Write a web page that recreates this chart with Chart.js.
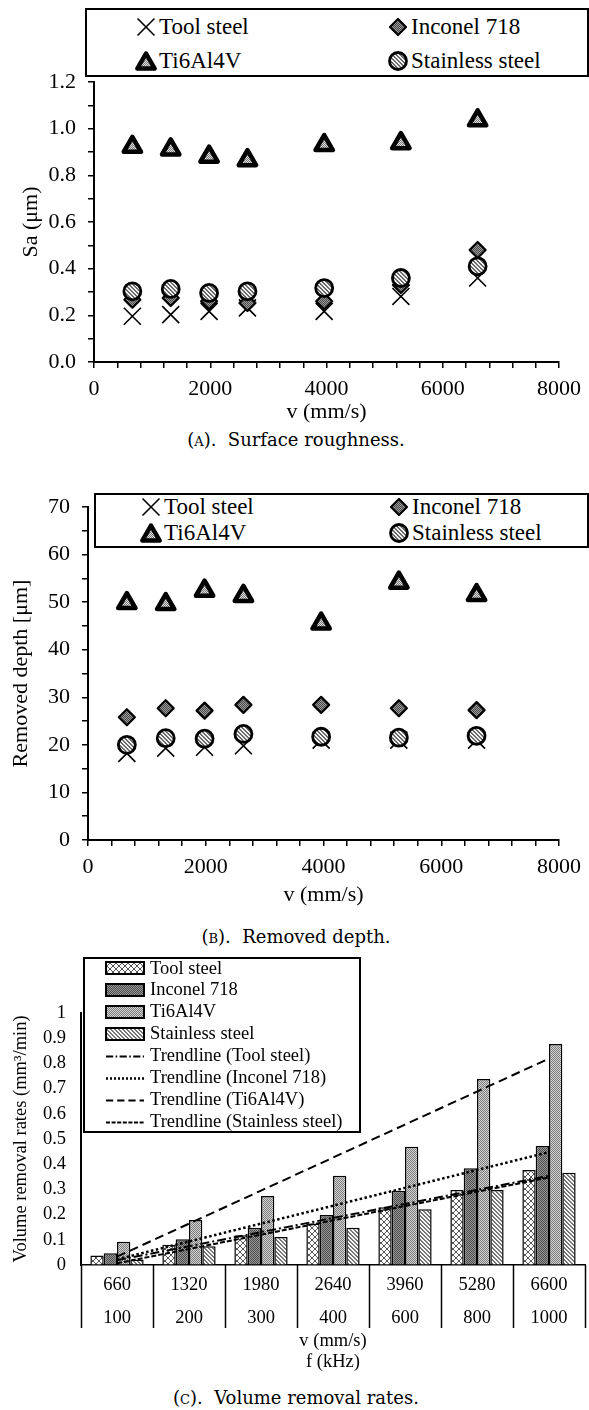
<!DOCTYPE html>
<html>
<head>
<meta charset="utf-8">
<title>Surface roughness, removed depth and volume removal rates</title>
<script src="https://cdn.jsdelivr.net/npm/chart.js@4.4.1/dist/chart.umd.min.js"></script>
<style>
  html, body { margin: 0; padding: 0; background: #fff; }
  body { position: relative; width: 589px; height: 1410px; overflow: hidden;
         font-family: "Liberation Serif", "Times New Roman", serif; color: #000; }
  .chartbox { position: absolute; left: 0; width: 589px; }
  .chartbox canvas { display: block; }
  .legend { position: absolute; box-sizing: border-box; border: 2px solid #000; background: #fff; }
  .legend .item { position: absolute; white-space: nowrap; display: flex; align-items: center; }
  .legend .item canvas { display: block; flex: none; }
  .caption { position: absolute; left: 0; width: 592px; text-align: center;
             font-family: "DejaVu Serif", serif; font-size: 18px; line-height: 24px; }
  .sc { font-variant: small-caps; }
</style>
</head>
<body>

<div class="chartbox" style="top:0;height:425px"><canvas id="chartA" width="589" height="425"></canvas></div>
<div class="legend" id="legendA" style="left:85px;top:8px;width:504px;height:69px"></div>
<div class="caption" style="top:428px">(<span class="sc">a</span>).&nbsp; Surface roughness.</div>

<div class="chartbox" style="top:450px;height:458px"><canvas id="chartB" width="589" height="458"></canvas></div>
<div class="legend" id="legendB" style="left:94px;top:493px;width:495px;height:55px"></div>
<div class="caption" style="top:925px">(<span class="sc">b</span>).&nbsp; Removed depth.</div>

<div class="chartbox" style="top:940px;height:432px"><canvas id="chartC" width="589" height="432"></canvas></div>
<div class="legend" id="legendC" style="left:83px;top:957px;width:278px;height:176px"></div>
<div class="caption" style="top:1386px">(<span class="sc">c</span>).&nbsp; Volume removal rates.</div>

<script>
// scanning speed v (mm/s) and pulse frequency f (kHz)
const speeds = [660, 1320, 1980, 2640, 3960, 5280, 6600];
const freqs = ["100", "200", "300", "400", "600", "800", "1000"];
const materials = ["Tool steel", "Inconel 718", "Ti6Al4V", "Stainless steel"];

// (A) surface roughness Sa (um)
const saTool = [0.196, 0.203, 0.217, 0.232, 0.217, 0.281, 0.360];
const saInconel = [0.267, 0.274, 0.260, 0.253, 0.260, 0.330, 0.480];
const saTi = [0.922, 0.911, 0.880, 0.865, 0.930, 0.938, 1.036];
const saStainless = [0.303, 0.313, 0.296, 0.303, 0.317, 0.360, 0.410];

// (B) removed depth (um)
const depthTool = [18.2, 19.3, 19.5, 19.8, 21.0, 21.0, 21.0];
const depthInconel = [25.8, 27.7, 27.2, 28.4, 28.4, 27.7, 27.3];
const depthTi = [49.8, 49.6, 52.4, 51.3, 45.5, 54.1, 51.5];
const depthStainless = [20.0, 21.4, 21.3, 22.3, 21.7, 21.5, 21.9];

// (C) volume removal rates (mm3/min)
const vrrTool = [0.038, 0.080, 0.118, 0.165, 0.229, 0.298, 0.377];
const vrrInconel = [0.047, 0.102, 0.148, 0.198, 0.295, 0.384, 0.472];
const vrrTi = [0.092, 0.179, 0.274, 0.354, 0.469, 0.738, 0.877];
const vrrStainless = [0.022, 0.074, 0.111, 0.148, 0.221, 0.298, 0.366];

const serif = '"Liberation Serif", "Times New Roman", serif';
Chart.defaults.font.family = serif;
Chart.defaults.color = "#000";

// fill patterns (Excel style)
function pattern(w, h, draw) {
    const c = document.createElement("canvas");
    c.width = w; c.height = h;
    const g = c.getContext("2d");
    draw(g);
    return g.createPattern(c, "repeat");
}
function checker(a, b) {
    return pattern(2, 2, g => {
        g.fillStyle = a; g.fillRect(0, 0, 2, 2);
        g.fillStyle = b; g.fillRect(0, 0, 1, 1); g.fillRect(1, 1, 1, 1);
    });
}
function stripes(fg, bg, n) {
    return pattern(n, n, g => {
        g.fillStyle = bg; g.fillRect(0, 0, n, n);
        g.fillStyle = fg;
        for (let i = 0; i < n; i++) { g.fillRect(i, i, 1, 1); g.fillRect((i + 1) % n, i, 1, 1); }
    });
}
const lattice = pattern(6, 6, g => {
    g.fillStyle = "#fff"; g.fillRect(0, 0, 6, 6);
    g.fillStyle = "#555";
    for (let i = 0; i < 6; i++) { g.fillRect(i, i, 1, 1); g.fillRect(5 - i, i, 1, 1); }
});
const fillInconel = checker("#9a9a9a", "#4a4a4a");
const fillTi = checker("#e0e0e0", "#7a7a7a");
const fillStainless = stripes("#6a6a6a", "#f2f2f2", 4);

// marker look for charts A and B
const markers = [
    { style: "crossRot", radius: 12, fill: "#000", border: 1.6 },
    { style: "rectRot", radius: 8, fill: fillInconel, border: 2.2 },
    { style: "triangle", radius: 10, fill: fillTi, border: 4.5 },
    { style: "circle", radius: 8.5, fill: fillStainless, border: 2.8 }
];
const drawOrder = [3, 1, 2, 0]; // stainless on top, tool steel at the back

function scatterSets(series) {
    return series.map((vals, k) => ({
        label: materials[k],
        data: vals.map((v, i) => ({ x: speeds[i], y: v })),
        order: drawOrder[k],
        showLine: false,
        pointStyle: markers[k].style,
        pointRadius: markers[k].radius,
        pointHoverRadius: markers[k].radius,
        pointBackgroundColor: markers[k].fill,
        pointBorderColor: "#000",
        pointBorderWidth: markers[k].border
    }));
}

const roundJoins = {
    id: "roundJoins",
    beforeDatasetsDraw(chart) { chart.ctx.lineJoin = "round"; }
};

function scatterOptions(o) {
    return {
        responsive: false,
        animation: false,
        events: [],
        devicePixelRatio: 1,
        layout: { padding: { top: o.top, right: o.right, left: 0, bottom: 0 } },
        plugins: { legend: { display: false }, tooltip: { enabled: false } },
        scales: {
            x: {
                type: "linear", min: 0, max: 8000,
                afterFit: s => { s.height = o.xHeight; },
                ticks: { stepSize: 400, autoSkip: false, maxRotation: 0, padding: 8,
                         font: { size: 22 }, color: "#000",
                         callback: v => (v % 2000 === 0 ? String(v) : "") },
                grid: { drawOnChartArea: false, tickLength: 6, color: "#000", lineWidth: 1.5 },
                border: { color: "#000", width: 2 },
                title: { display: true, text: "v (mm/s)", font: { size: 22 }, color: "#000",
                         padding: { top: 0, bottom: 0 } }
            },
            y: {
                min: 0, max: o.yMax,
                afterFit: s => { s.width = o.yWidth; },
                ticks: { stepSize: o.yStep / 2, autoSkip: false, padding: 12,
                         font: { size: 22 }, color: "#000", callback: o.yLabel },
                grid: { drawOnChartArea: false, tickLength: 6, color: "#000", lineWidth: 1.5 },
                border: { color: "#000", width: 2 },
                title: { display: true, text: o.yTitle, font: { size: 22 }, color: "#000",
                         padding: { top: o.titleX, bottom: 0 } }
            }
        }
    };
}

new Chart(document.getElementById("chartA"), {
    type: "scatter",
    data: { datasets: scatterSets([saTool, saInconel, saTi, saStainless]) },
    options: scatterOptions({
        top: 82, right: 27, xHeight: 425 - 362, yWidth: 94, yMax: 1.2, yStep: 0.2,
        yTitle: "Sa (\u03bcm)", titleX: 18,
        yLabel: v => { const n = Math.round(v * 10); return n % 2 === 0 ? (n / 10).toFixed(1) : ""; }
    }),
    plugins: [roundJoins]
});

new Chart(document.getElementById("chartB"), {
    type: "scatter",
    data: { datasets: scatterSets([depthTool, depthInconel, depthTi, depthStainless]) },
    options: scatterOptions({
        top: 57, right: 28, xHeight: 458 - 390, yWidth: 88, yMax: 70, yStep: 10,
        yTitle: "Removed depth [\u03bcm]", titleX: 8,
        yLabel: v => (Math.round(v) % 10 === 0 ? String(Math.round(v)) : "")
    }),
    plugins: [roundJoins]
});

// (C) grouped bars with linear trendlines
function linearTrend(vals) {
    const n = vals.length;
    const xs = vals.map((_, i) => i + 1);
    const mx = xs.reduce((a, b) => a + b, 0) / n;
    const my = vals.reduce((a, b) => a + b, 0) / n;
    let sxy = 0, sxx = 0;
    xs.forEach((x, i) => { sxy += (x - mx) * (vals[i] - my); sxx += (x - mx) * (x - mx); });
    const slope = sxy / sxx;
    return xs.map(x => my + slope * (x - mx));
}

const barFills = [lattice, fillInconel, checker("#d4d4d4", "#7c7c7c"), stripes("#777", "#fafafa", 4)];
const trendDash = [[9, 3, 2, 3], [2.5, 2.5], [9, 5], [5, 2]];
const trendWidth = [2, 2.5, 2, 2];
const vrrSeries = [vrrTool, vrrInconel, vrrTi, vrrStainless];

const tableLines = {
    id: "tableLines",
    afterDraw(chart) {
        const x = chart.scales.x, ctx = chart.ctx, bottom = chart.chartArea.bottom;
        const step = (x.right - x.left) / speeds.length;
        ctx.save();
        ctx.strokeStyle = "#000";
        ctx.lineWidth = 1.5;
        for (let i = 0; i <= speeds.length; i++) {
            const px = Math.round(x.left + i * step) + 0.5;
            ctx.beginPath(); ctx.moveTo(px, bottom); ctx.lineTo(px, bottom + 63); ctx.stroke();
        }
        ctx.restore();
    }
};

new Chart(document.getElementById("chartC"), {
    type: "bar",
    data: {
        labels: speeds.map((v, i) => [String(v), freqs[i]]),
        datasets: [
            ...vrrSeries.map((vals, k) => ({
                type: "line",
                label: "Trendline (" + materials[k] + ")",
                data: linearTrend(vals),
                order: 0,
                borderColor: "#000",
                borderWidth: trendWidth[k],
                borderDash: trendDash[k],
                pointRadius: 0,
                fill: false
            })),
            ...vrrSeries.map((vals, k) => ({
                label: materials[k],
                data: vals,
                order: 1,
                backgroundColor: barFills[k],
                borderColor: "#000",
                borderWidth: 1.5,
                categoryPercentage: 0.74,
                barPercentage: 1.0
            }))
        ]
    },
    options: {
        responsive: false,
        animation: false,
        events: [],
        devicePixelRatio: 1,
        layout: { padding: { top: 73, right: 4, left: 0, bottom: 0 } },
        plugins: { legend: { display: false }, tooltip: { enabled: false } },
        scales: {
            x: {
                afterFit: s => { s.height = 432 - 325; },
                ticks: { maxRotation: 0, autoSkip: false, padding: 3,
                         font: { size: 18.5, lineHeight: 1.8 }, color: "#000" },
                grid: { display: false, drawTicks: false },
                border: { color: "#000", width: 1.5 },
                title: { display: true, text: ["v (mm/s)", "f (kHz)"], color: "#000",
                         font: { size: 18.5, lineHeight: 1.1 }, padding: { top: 0, bottom: 0 } }
            },
            y: {
                min: 0, max: 1,
                afterFit: s => { s.width = 81; },
                ticks: { stepSize: 0.1, padding: 15, font: { size: 18.5 }, color: "#000",
                         callback: v => { const n = Math.round(v * 10); return n === 0 ? "0" : n === 10 ? "1" : (n / 10).toFixed(1); } },
                grid: { drawOnChartArea: false, drawTicks: false },
                border: { color: "#000", width: 2 },
                title: { display: true, text: "Volume removal rates (mm\u00b3/min)", color: "#000",
                         font: { size: 18.5 }, padding: { top: 10, bottom: 0 } }
            }
        }
    },
    plugins: [tableLines]
});

// ---- legends (HTML boxes like the Excel ones) ----
function drawMarker(g, k, cx, cy) {
    const m = markers[k], r = m.radius;
    g.lineJoin = "round";
    g.strokeStyle = "#000";
    g.fillStyle = m.fill;
    g.lineWidth = m.border;
    g.beginPath();
    if (m.style === "crossRot") {
        const d = r * Math.SQRT1_2;
        g.moveTo(cx - d, cy - d); g.lineTo(cx + d, cy + d);
        g.moveTo(cx + d, cy - d); g.lineTo(cx - d, cy + d);
        g.stroke();
        return;
    }
    if (m.style === "rectRot") {
        g.moveTo(cx, cy - r); g.lineTo(cx + r, cy); g.lineTo(cx, cy + r); g.lineTo(cx - r, cy);
        g.closePath();
    } else if (m.style === "triangle") {
        const h = r * 0.866;
        g.moveTo(cx, cy - r * 0.75); g.lineTo(cx + h, cy + r * 0.75); g.lineTo(cx - h, cy + r * 0.75);
        g.closePath();
    } else {
        g.arc(cx, cy, r, 0, Math.PI * 2);
    }
    g.fill(); g.stroke();
}

function addItem(box, left, top, h, fontSize, swatchW, drawSwatch, text, gap) {
    const it = document.createElement("div");
    it.className = "item";
    it.style.left = left + "px";
    it.style.top = top + "px";
    it.style.height = h + "px";
    it.style.fontSize = fontSize + "px";
    const c = document.createElement("canvas");
    c.width = swatchW; c.height = h;
    drawSwatch(c.getContext("2d"), swatchW, h);
    const t = document.createElement("span");
    t.textContent = text;
    t.style.marginLeft = gap + "px";
    it.appendChild(c); it.appendChild(t);
    box.appendChild(it);
}

function scatterLegend(id, cols, rows) {
    const box = document.getElementById(id);
    const place = [[0, 0], [1, 0], [0, 1], [1, 1]];
    [0, 1, 2, 3].forEach(k => {
        const [ci, ri] = place[k];
        addItem(box, cols[ci], rows[ri], 26, 23, 26,
            (g, w, h) => drawMarker(g, k, w / 2, h / 2), materials[k], 0);
    });
}
scatterLegend("legendA", [46, 298], [4, 38]);
scatterLegend("legendB", [42, 290], [-1, 25]);

(function () {
    const box = document.getElementById("legendC");
    const rowH = 21.95;
    vrrSeries.forEach((_, k) => {
        addItem(box, 19, -2 + k * rowH, 22, 18.5, 42, (g, w, h) => {
            g.fillStyle = barFills[k];
            g.fillRect(2, 5, 38, 12);
            g.strokeStyle = "#000"; g.lineWidth = 2;
            g.strokeRect(2, 5, 38, 12);
        }, materials[k], 4);
    });
    vrrSeries.forEach((_, k) => {
        addItem(box, 19, -2 + (k + 4) * rowH, 22, 18.5, 42, (g, w, h) => {
            g.strokeStyle = "#000"; g.lineWidth = trendWidth[k];
            g.setLineDash(trendDash[k].map(d => d * 0.8));
            g.beginPath(); g.moveTo(2, 11.5); g.lineTo(40, 11.5); g.stroke();
        }, "Trendline (" + materials[k] + ")", 4);
    });
})();
</script>
</body>
</html>
